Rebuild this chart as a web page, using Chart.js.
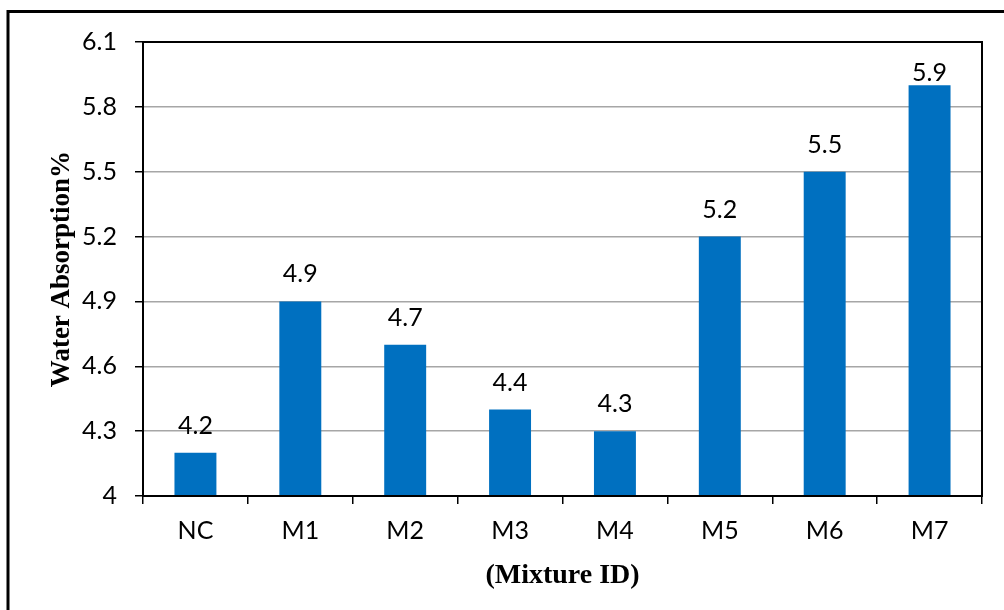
<!DOCTYPE html>
<html>
<head>
<meta charset="utf-8">
<script src="https://cdn.jsdelivr.net/npm/chart.js@4.4.0/dist/chart.umd.min.js"></script>
<style>
  html, body { margin: 0; padding: 0; background: #fff; }
  #wrap { width: 1004px; height: 610px; }
</style>
</head>
<body>
<div id="wrap"><canvas id="grafico" width="1004" height="610"></canvas></div>
<script>
// Dados do gráfico
const categorias = ["NC", "M1", "M2", "M3", "M4", "M5", "M6", "M7"];
const absorcao = [4.2, 4.9, 4.7, 4.4, 4.3, 5.2, 5.5, 5.9];
const yMin = 4;
const yMax = 6.1;
const yPasso = 0.3;

// Moldura externa e borda da área do gráfico
const moldura = {
    id: 'moldura',
    beforeDraw(chart) {
        const ctx = chart.ctx;
        ctx.save();
        ctx.fillStyle = '#fff';
        ctx.fillRect(0, 0, chart.width, chart.height);
        ctx.strokeStyle = '#000';
        ctx.lineWidth = 3;
        ctx.strokeRect(8, 11.5, chart.width + 20, chart.height + 20);
        ctx.restore();
    },
    afterDraw(chart) {
        const a = chart.chartArea;
        const ctx = chart.ctx;
        ctx.save();
        ctx.strokeStyle = '#000';
        ctx.lineWidth = 2;
        ctx.strokeRect(a.left, a.top, a.right - a.left, a.bottom - a.top);
        ctx.restore();
    }
};

// Rótulos de valor acima das barras (limitados perto do topo, como no Excel)
const rotulos = {
    id: 'rotulos',
    afterDatasetsDraw(chart) {
        const ctx = chart.ctx;
        const meta = chart.getDatasetMeta(0);
        const topo = chart.chartArea.top;
        ctx.save();
        ctx.font = '25px Lato';
        ctx.fillStyle = '#000';
        ctx.textAlign = 'center';
        ctx.textBaseline = 'middle';
        meta.data.forEach((bar, i) => {
            const y = Math.max(bar.y - 27, topo + 31);
            ctx.fillText(absorcao[i].toFixed(1), bar.x, y);
        });
        ctx.restore();
    }
};

new Chart(document.getElementById("grafico"), {
    type: 'bar',
    data: {
        labels: categorias,
        datasets: [{
            data: absorcao,
            backgroundColor: '#0070C0',
            borderWidth: 0,
            barPercentage: 0.4,
            categoryPercentage: 1
        }]
    },
    options: {
        responsive: false,
        animation: false,
        layout: { padding: { top: 42, right: 22, bottom: 0, left: 0 } },
        plugins: {
            legend: { display: false },
            tooltip: { enabled: false }
        },
        scales: {
            x: {
                afterFit(scale) { scale.height = 114; },
                grid: {
                    offset: true,
                    drawOnChartArea: false,
                    tickLength: 8,
                    tickColor: '#000',
                    lineWidth: 1.5
                },
                border: { color: '#000', width: 2 },
                ticks: {
                    color: '#000',
                    padding: 12,
                    font: { family: 'Lato', size: 25 }
                },
                title: {
                    display: true,
                    text: '(Mixture ID)',
                    color: '#000',
                    font: { family: 'Liberation Serif', size: 28, weight: 'bold' },
                    padding: { top: 0, bottom: 17 }
                }
            },
            y: {
                min: yMin,
                max: yMax,
                afterFit(scale) { scale.width = 143; },
                afterBuildTicks(scale) {
                    const t = [];
                    for (let v = yMin; v <= yMax + 1e-9; v += yPasso) t.push({ value: Math.round(v * 10) / 10 });
                    scale.ticks = t;
                },
                grid: {
                    color: '#a6a6a6',
                    lineWidth: 1.5,
                    tickLength: 8,
                    tickColor: '#000'
                },
                border: { color: '#000', width: 2 },
                ticks: {
                    color: '#000',
                    padding: 18,
                    font: { family: 'Lato', size: 25 },
                    callback: v => String(Math.round(v * 10) / 10)
                },
                title: {
                    display: true,
                    text: 'Water Absorption%',
                    color: '#000',
                    font: { family: 'Liberation Serif', size: 27, weight: 'bold' },
                    padding: { top: 46, bottom: 0 }
                }
            }
        }
    },
    plugins: [moldura, rotulos]
});
</script>
</body>
</html>
